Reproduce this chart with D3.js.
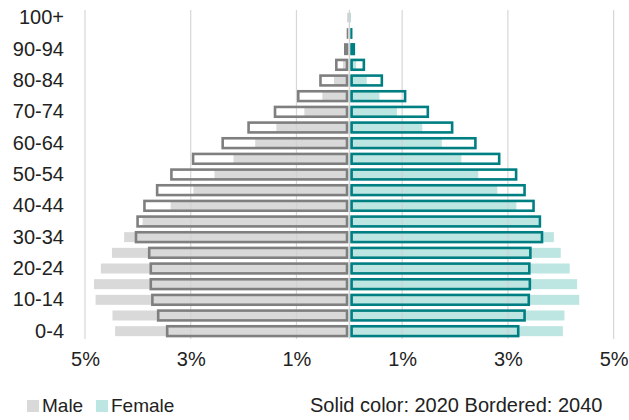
<!DOCTYPE html>
<html>
<head>
<meta charset="utf-8">
<script src="https://cdn.jsdelivr.net/npm/d3@7"></script>
<style>
  html, body { margin: 0; padding: 0; background: #fff; }
  svg { display: block; }
  text { font-family: "Liberation Sans", Arial, Helvetica, sans-serif; fill: #222; }
</style>
</head>
<body>
<svg id="chart" width="629" height="420"></svg>
<script>
const ageGroups = ["0-4","5-9","10-14","15-19","20-24","25-29","30-34","35-39","40-44","45-49",
  "50-54","55-59","60-64","65-69","70-74","75-79","80-84","85-89","90-94","95-99","100+"];
const shownAgeLabels = ["0-4","10-14","20-24","30-34","40-44","50-54","60-64","70-74","80-84","90-94","100+"];

const male2020   = [4.43,4.48,4.80,4.83,4.70,4.49,4.26,3.91,3.38,2.95,2.55,2.19,1.78,1.38,0.85,0.51,0.29,0.12,0.05,0.02,0.01];
const male2040   = [3.47,3.64,3.75,3.78,3.78,3.81,4.06,4.03,3.90,3.66,3.39,2.98,2.42,1.93,1.43,0.99,0.57,0.27,0.10,0.05,0.03];
const female2020 = [4.04,4.07,4.35,4.31,4.17,4.00,3.87,3.58,3.16,2.80,2.44,2.12,1.75,1.38,0.90,0.57,0.33,0.13,0.06,0.03,0.01];
const female2040 = [3.22,3.34,3.42,3.44,3.43,3.45,3.67,3.63,3.51,3.34,3.18,2.86,2.41,1.97,1.51,1.08,0.64,0.30,0.11,0.06,0.03];

const xTicks = [-5,-3,-1,1,3,5];
const legendItems = ["Male","Female"];
const noteText = "Solid color: 2020 Bordered: 2040";

const C = {
  maleSolid: "#d9d9d9", maleBorder: "#7f7f7f",
  femaleSolid: "#bde5e2", femaleBorder: "#007f83",
  grid: "#d0d0d0", center: "#c8c8c8"
};

const svg = d3.select("#chart");
const x = d3.scaleLinear().domain([-5, 5]).range([85, 613.6]);
const y = d3.scaleBand().domain(ageGroups.slice().reverse()).range([10, 339]).paddingInner(0);
const cx = x(0);
const gap = 1;
const solidH = 10;
const sw = 2.6;
const borderOuterH = 12.4;

// solid bars (2020)
const solid = svg.append("g");
solid.selectAll("rect.m").data(ageGroups).join("rect")
  .attr("x", (d,i) => x(-male2020[i]))
  .attr("width", (d,i) => Math.max(0, cx - gap - x(-male2020[i])))
  .attr("y", d => y(d) + (y.bandwidth() - solidH) / 2)
  .attr("height", solidH)
  .attr("fill", C.maleSolid);
solid.selectAll("rect.f").data(ageGroups).join("rect")
  .attr("x", cx + gap)
  .attr("width", (d,i) => Math.max(0, x(female2020[i]) - cx - gap))
  .attr("y", d => y(d) + (y.bandwidth() - solidH) / 2)
  .attr("height", solidH)
  .attr("fill", C.femaleSolid);

// gridlines
svg.append("g").selectAll("line").data(xTicks).join("line")
  .attr("x1", d => x(d)).attr("x2", d => x(d))
  .attr("y1", 10).attr("y2", 339)
  .attr("stroke", C.grid).attr("stroke-width", 1.2)
  .attr("stroke-opacity", 0.85);

// center line
svg.append("line")
  .attr("x1", cx).attr("x2", cx).attr("y1", 10).attr("y2", 339)
  .attr("stroke", C.center).attr("stroke-width", 1);

// bordered bars (2040): outer edge matches the value; stroke shrinks for tiny bars
function outline(g, vals, color, side) {
  vals.forEach((v, i) => {
    const w = Math.abs(x(side * v) - cx) - gap;
    if (w <= 0.2) return;
    const s = Math.min(sw, w / 2);
    const innerW = Math.max(0.01, w - s);
    const x0 = side < 0 ? cx - gap - w + s / 2 : cx + gap + s / 2;
    g.append("rect")
      .attr("x", x0).attr("width", innerW)
      .attr("y", y(ageGroups[i]) + (y.bandwidth() - borderOuterH) / 2 + sw / 2)
      .attr("height", borderOuterH - sw)
      .attr("fill", "none").attr("stroke", color).attr("stroke-width", s);
  });
}
const bord = svg.append("g");
outline(bord, male2040, C.maleBorder, -1);
outline(bord, female2040, C.femaleBorder, 1);

// y axis labels
const yAxis = d3.axisLeft(y).tickValues(shownAgeLabels).tickSize(0).tickPadding(0);
const gy = svg.append("g").attr("transform", "translate(64,0)").call(yAxis);
gy.select(".domain").remove();
gy.selectAll("text").style("font-size", "20px").attr("fill", "#222")
  .attr("font-family", "Liberation Sans, Arial, sans-serif");

// x axis labels
const xAxis = d3.axisBottom(x).tickValues(xTicks).tickSize(0).tickPadding(0)
  .tickFormat(d => Math.abs(d) + "%");
const gx = svg.append("g").attr("transform", "translate(0,352)").call(xAxis);
gx.select(".domain").remove();
gx.selectAll("text").style("font-size", "20px").attr("fill", "#222")
  .attr("font-family", "Liberation Sans, Arial, sans-serif");

// legend
const leg = svg.append("g");
const legX = [27, 96];
const legColors = [C.maleSolid, C.femaleSolid];
legendItems.forEach((t, i) => {
  leg.append("rect").attr("x", legX[i]).attr("y", 400).attr("width", 12).attr("height", 12)
    .attr("fill", legColors[i]);
  leg.append("text").attr("x", legX[i] + 15).attr("y", 412).style("font-size", "19px").text(t);
});
svg.append("text").attr("x", 310).attr("y", 412).style("font-size", "20px").text(noteText);
</script>
</body>
</html>
